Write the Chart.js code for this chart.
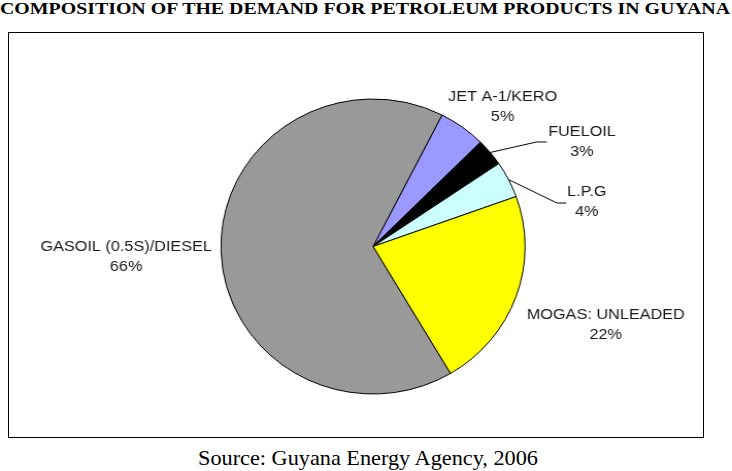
<!DOCTYPE html>
<html>
<head>
<meta charset="utf-8">
<script src="https://cdn.jsdelivr.net/npm/chart.js@4.4.1/dist/chart.umd.min.js"></script>
<style>
  html,body{margin:0;padding:0;background:#fff;}
  body{width:732px;height:471px;position:relative;overflow:hidden;}
  #title{position:absolute;left:0;top:0;font:bold 17px "Liberation Serif","Times New Roman",serif;line-height:17px;white-space:nowrap;color:#000;transform-origin:0 0;}
  #frame{position:absolute;left:8px;top:32px;width:696px;height:406px;border:1px solid #000;box-sizing:border-box;}
  #source{position:absolute;top:447px;font:22px "Liberation Serif","Times New Roman",serif;line-height:22px;white-space:nowrap;color:#000;transform-origin:0 0;}
  #pie{position:absolute;left:0;top:0;}
</style>
</head>
<body>
<div id="title">COMPOSITION OF THE DEMAND FOR PETROLEUM PRODUCTS IN GUYANA</div>
<div id="frame"></div>
<div id="source">Source: Guyana Energy Agency, 2006</div>
<canvas id="pie" width="710" height="471" style="width:732px;height:471px"></canvas>
<script>
/* ===== data ===== */
const products = ["JET A-1/KERO", "FUELOIL", "L.P.G", "MOGAS: UNLEADED", "GASOIL (0.5S)/DIESEL"];
const shares   = [5, 3, 4, 22, 66];
const colors   = ["#9999FF", "#000000", "#CCFFFF", "#FFFF00", "#999999"];

/* ===== static text fitting ===== */
function fitText(el, width, left){
  const w = el.getBoundingClientRect().width;
  el.style.left = left + "px";
  el.style.transform = "scaleX(" + (width / w) + ")";
}
fitText(document.getElementById("title"), 730, 0);
fitText(document.getElementById("source"), 340, 198);

/* ===== label placement (offsets from each slice's outer mid point) ===== */
const labelOffsets = [
  {dx: 39,  dy: -20},
  {dx: 89,  dy: -10, leader: [[45, -10.5], [55, -10.5]]},
  {dx: 76,  dy: 22.5, leader: [[47, 23.5], [56, 23.5]]},
  {dx: 87,  dy: 28.5},
  {dx: -92, dy: 6}
];

const sliceLabels = {
  id: "sliceLabels",
  afterDatasetsDraw(chart){
    const ctx = chart.ctx;
    const meta = chart.getDatasetMeta(0);
    meta.data.forEach((arc, i) => {
      const p = arc.getProps(["x","y","startAngle","endAngle","outerRadius"], true);
      const mid = (p.startAngle + p.endAngle) / 2;
      const ax = p.x + Math.cos(mid) * p.outerRadius;
      const ay = p.y + Math.sin(mid) * p.outerRadius;
      const o = labelOffsets[i];

      if(o.leader){
        ctx.save();
        ctx.strokeStyle = "#000";
        ctx.lineWidth = 1;
        ctx.beginPath();
        ctx.moveTo(ax, ay);
        o.leader.forEach(pt => ctx.lineTo(ax + pt[0], ay + pt[1]));
        ctx.stroke();
        ctx.restore();
      }

      ctx.save();
      ctx.translate(ax + o.dx, ay + o.dy);
      ctx.scale(1.125, 1);
      ctx.fillStyle = "#1a1a1a";
      ctx.font = '14px "Liberation Sans", Arial, sans-serif';
      ctx.textAlign = "center";
      ctx.textBaseline = "middle";
      ctx.fillText(products[i], 0, -10);
      ctx.fillText(shares[i] + "%", 0, 10);
      ctx.restore();
    });
  }
};

new Chart(document.getElementById("pie"), {
  type: "pie",
  data: {
    labels: products,
    datasets: [{
      data: shares,
      backgroundColor: colors,
      borderColor: "#000",
      borderWidth: 1
    }]
  },
  options: {
    responsive: false,
    devicePixelRatio: 1,
    animation: false,
    rotation: 27,
    layout: { padding: { left: 213.8, right: 200.2, top: 98.5, bottom: 76.5 } },
    plugins: {
      legend: { display: false },
      tooltip: { enabled: false }
    }
  },
  plugins: [sliceLabels]
});
</script>
</body>
</html>
